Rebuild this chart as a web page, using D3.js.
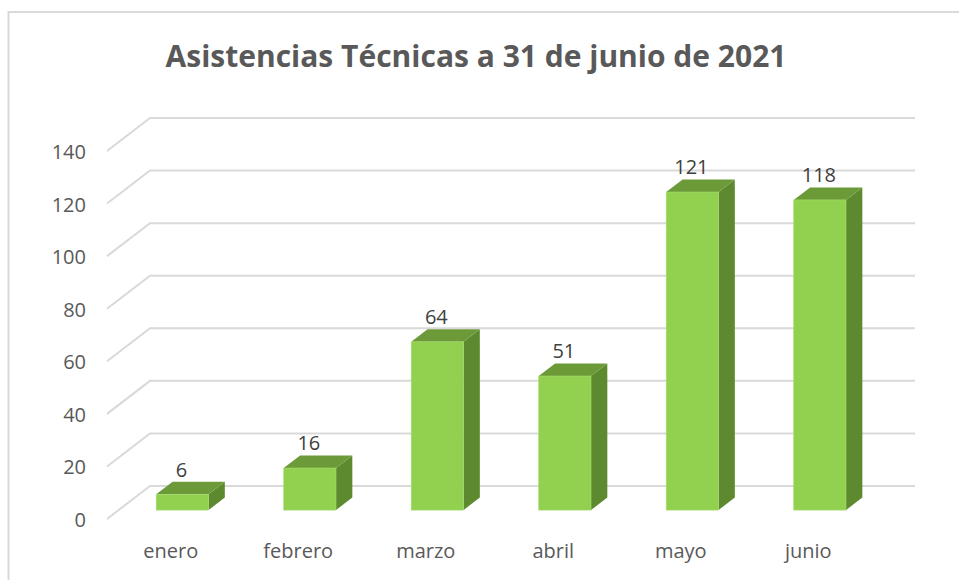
<!DOCTYPE html>
<html>
<head>
<meta charset="utf-8">
<script src="https://cdn.jsdelivr.net/npm/d3@7"></script>
<style>
  body { margin: 0; background: #fff; }
  text { font-family: "Open Sans", "Segoe UI", sans-serif; }
</style>
</head>
<body>
<svg id="chart" width="959" height="580"></svg>
<script>
var months = ["enero", "febrero", "marzo", "abril", "mayo", "junio"];
var asistencias = [6, 16, 64, 51, 121, 118];
var yTicks = [0, 20, 40, 60, 80, 100, 120, 140];
var title = "Asistencias Técnicas a 31 de junio de 2021";

var svg = d3.select("#chart");

// 3d look: depth offset of the floor/back wall
var DX = 43, DY = 33;
var T0 = 0.27, T1 = 0.65; // bar front / back depth

var xScale = d3.scaleBand()
  .domain(months)
  .range([107, 872]);

var yScale = d3.scaleLinear()
  .domain([0, 140])
  .range([519, 151]);

var proj = function (x, y, t) {
  return [x + t * DX, y - t * DY];
};

// outer frame (runs off the right/bottom edge)
svg.append("rect")
  .attr("x", 8.5).attr("y", 12)
  .attr("width", 1000).attr("height", 640)
  .attr("fill", "#fff")
  .attr("stroke", "#d9d9d9")
  .attr("stroke-width", 2);

svg.append("text")
  .attr("x", 476).attr("y", 67)
  .attr("text-anchor", "middle")
  .attr("font-size", 30)
  .attr("font-weight", "bold")
  .attr("fill", "#595959")
  .text(title);

// grid lines: slanted side wall part, then back wall
var x0 = xScale.range()[0], x1 = xScale.range()[1];
svg.selectAll("path.grid")
  .data(yTicks)
  .enter()
  .append("path")
  .attr("class", "grid")
  .attr("d", function (d) {
    var a = proj(x0, yScale(d), 0), b = proj(x0, yScale(d), 1), c = proj(x1, yScale(d), 1);
    return "M" + a + "L" + b + "L" + c;
  })
  .attr("fill", "none")
  .attr("stroke", "#d9d9d9")
  .attr("stroke-width", 2);

svg.selectAll("text.ytick")
  .data(yTicks)
  .enter()
  .append("text")
  .attr("class", "ytick")
  .attr("x", 86)
  .attr("y", function (d) { return yScale(d) + 8; })
  .attr("text-anchor", "end")
  .attr("font-size", 20)
  .attr("fill", "#595959")
  .text(function (d) { return d; });

svg.selectAll("text.xtick")
  .data(months)
  .enter()
  .append("text")
  .attr("class", "xtick")
  .attr("x", function (d) { return xScale(d) + xScale.bandwidth() / 2; })
  .attr("y", 558)
  .attr("text-anchor", "middle")
  .attr("font-size", 20)
  .attr("fill", "#595959")
  .text(function (d) { return d; });

// bars
var barW = xScale.bandwidth() * 0.41;
var bars = svg.selectAll("g.bar")
  .data(months.map(function (m, i) { return { m: m, v: asistencias[i] }; }))
  .enter()
  .append("g")
  .attr("class", "bar");

var pts = function (arr) { return arr.map(function (p) { return p.join(","); }).join(" "); };

bars.each(function (d) {
  var g = d3.select(this);
  var l = xScale(d.m) + (xScale.bandwidth() - barW) / 2, r = l + barW;
  var top = yScale(d.v), bot = yScale(0);

  g.append("polygon")
    .attr("points", pts([proj(r, top, T0), proj(r, top, T1), proj(r, bot, T1), proj(r, bot, T0)]))
    .attr("fill", "#5e8a2f");
  g.append("polygon")
    .attr("points", pts([proj(l, top, T0), proj(l, top, T1), proj(r, top, T1), proj(r, top, T0)]))
    .attr("fill", "#6c9a39");
  var f = proj(l, top, T0);
  g.append("rect")
    .attr("x", f[0]).attr("y", f[1])
    .attr("width", barW).attr("height", bot - top)
    .attr("fill", "#92d050")
    .attr("stroke", "#a5dc6c")
    .attr("stroke-width", 0.6);

  // value label sits over the front face, just above the top
  var lab = proj(l + barW / 2, top, T1);
  g.append("text")
    .attr("x", f[0] + barW / 2 - 1).attr("y", lab[1] - 5)
    .attr("text-anchor", "middle")
    .attr("font-size", 20)
    .attr("fill", "#404040")
    .text(d.v);
});
</script>
</body>
</html>
